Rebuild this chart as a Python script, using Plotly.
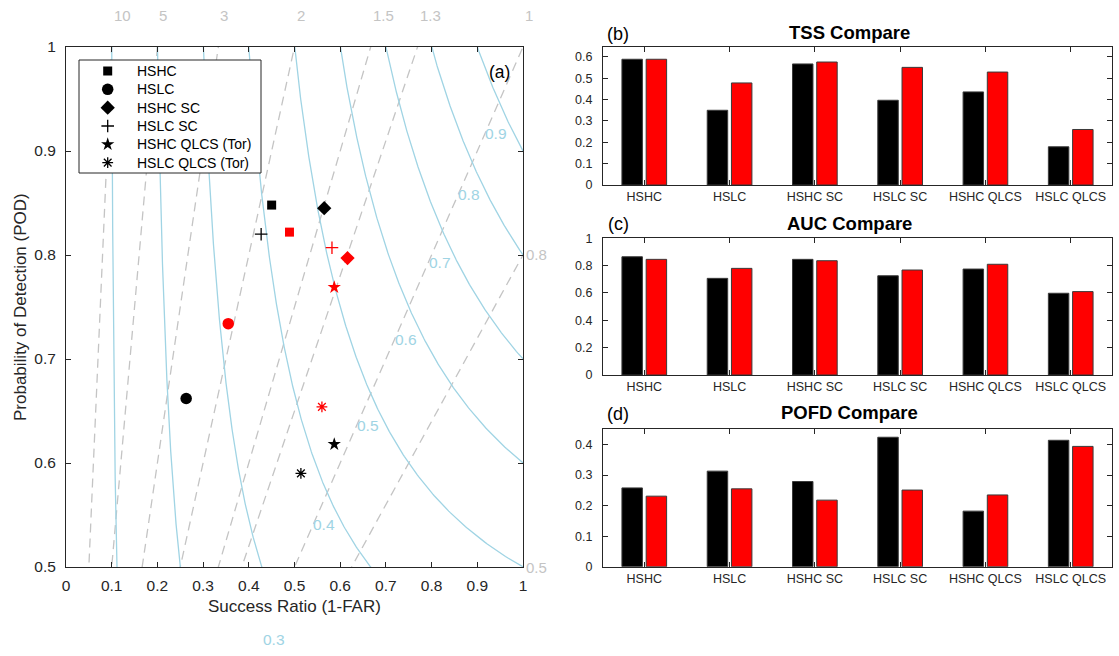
import numpy as np
import plotly.graph_objects as go

# ---- performance diagram data (success ratio, probability of detection) ----
cases = ["HSHC", "HSLC", "HSHC SC", "HSLC SC", "HSHC QLCS (Tor)", "HSLC QLCS (Tor)"]
symbols = ["square", "circle", "diamond", "cross-thin-open", "star", "asterisk-open"]
sizes = [9, 11.5, 11, 9, 10, 9]
sr_black = [0.450, 0.263, 0.565, 0.427, 0.587, 0.514]
pod_black = [0.848, 0.662, 0.845, 0.820, 0.618, 0.590]
sr_red = [0.489, 0.355, 0.616, 0.582, 0.587, 0.560]
pod_red = [0.822, 0.734, 0.797, 0.807, 0.769, 0.654]

# reference lines of the diagram
csi_levels = [0.1, 0.2, 0.3, 0.4, 0.5, 0.6, 0.7, 0.8, 0.9]
csi_labelled = [0.3, 0.4, 0.5, 0.6, 0.7, 0.8, 0.9]
bias_levels = [10, 5, 3, 2, 1.5, 1.3, 1, 0.8, 0.5]

# ---- bar chart data ----
bar_cats = ["HSHC", "HSLC", "HSHC SC", "HSLC SC", "HSHC QLCS", "HSLC QLCS"]
tss_black = [0.589, 0.350, 0.567, 0.397, 0.436, 0.179]
tss_red = [0.589, 0.478, 0.576, 0.551, 0.529, 0.260]
auc_black = [0.865, 0.707, 0.846, 0.726, 0.775, 0.598]
auc_red = [0.846, 0.780, 0.836, 0.768, 0.810, 0.610]
pofd_black = [0.258, 0.313, 0.279, 0.424, 0.182, 0.414]
pofd_red = [0.231, 0.255, 0.218, 0.251, 0.235, 0.394]

W, H = 1119, 656
FONT = "Liberation Sans, Arial, Helvetica, sans-serif"
AXC = "#262626"
CSI_C = "rgb(160,212,228)"
BIAS_C = "rgb(196,196,196)"

# left panel frame in pixels
L_X0, L_X1, L_Y0, L_Y1 = 66, 523, 47, 567
SR_RANGE, POD_RANGE = (0.0, 1.0), (0.5, 1.0)


def px(x):
    return x / W


def py(y):
    return 1 - y / H


def sr_at(x):
    """horizontal pixel -> success ratio on the left panel"""
    return SR_RANGE[0] + (x - L_X0) / (L_X1 - L_X0) * (SR_RANGE[1] - SR_RANGE[0])


def pod_at(y):
    """vertical pixel -> POD on the left panel"""
    return POD_RANGE[1] - (y - L_Y0) / (L_Y1 - L_Y0) * (POD_RANGE[1] - POD_RANGE[0])


def paper_x(sr):
    """success ratio -> paper fraction (valid outside the axis range too)"""
    return px(L_X0 + (sr - SR_RANGE[0]) / (SR_RANGE[1] - SR_RANGE[0]) * (L_X1 - L_X0))


def paper_y(pod):
    """POD -> paper fraction (valid outside the axis range too)"""
    return py(L_Y1 - (pod - POD_RANGE[0]) / (POD_RANGE[1] - POD_RANGE[0]) * (L_Y1 - L_Y0))


fig = go.Figure()

# bias lines (dashed)
for b in bias_levels:
    fig.add_trace(go.Scatter(x=[0, 1.2], y=[0, 1.2 * b], mode="lines",
                             line=dict(color=BIAS_C, width=1.3, dash="9px,6px"),
                             showlegend=False, hoverinfo="skip", xaxis="x", yaxis="y"))

# CSI contours
pod_grid = np.linspace(0.45, 1.05, 400)
for c in csi_levels:
    den = 1 / c + 1 - 1 / pod_grid
    ok = den > 0
    fig.add_trace(go.Scatter(x=1 / den[ok], y=pod_grid[ok], mode="lines",
                             line=dict(color=CSI_C, width=1.3),
                             showlegend=False, hoverinfo="skip", xaxis="x", yaxis="y"))


def marker(sym, size, color):
    open_sym = sym.endswith("open")
    return dict(symbol=sym, size=size, color=color,
                line=dict(color=color, width=1.3 if open_sym else 0))


# points
for i, name in enumerate(cases):
    fig.add_trace(go.Scatter(x=[sr_black[i]], y=[pod_black[i]], mode="markers", name=name,
                             marker=marker(symbols[i], sizes[i], "black"),
                             showlegend=False, xaxis="x", yaxis="y"))
    fig.add_trace(go.Scatter(x=[sr_red[i]], y=[pod_red[i]], mode="markers", name=name,
                             marker=marker(symbols[i], sizes[i], "red"),
                             showlegend=False, xaxis="x", yaxis="y"))

# legend box with keys, drawn over the diagram lines
LG_X0, LG_X1, LG_Y0, LG_Y1 = 79, 261, 60, 173
LG_KEY_X, LG_TXT_X, LG_ROW0, LG_DY = 107.7, 135, 71, 18.33
fig.add_trace(go.Scatter(
    x=[sr_at(LG_X0), sr_at(LG_X1), sr_at(LG_X1), sr_at(LG_X0), sr_at(LG_X0)],
    y=[pod_at(LG_Y0), pod_at(LG_Y0), pod_at(LG_Y1), pod_at(LG_Y1), pod_at(LG_Y0)],
    mode="lines", fill="toself", fillcolor="white",
    line=dict(color=AXC, width=1), showlegend=False, hoverinfo="skip",
    xaxis="x", yaxis="y"))
for i, name in enumerate(cases):
    fig.add_trace(go.Scatter(x=[sr_at(LG_KEY_X)], y=[pod_at(LG_ROW0 + i * LG_DY)],
                             mode="markers", marker=marker(symbols[i], sizes[i], "black"),
                             showlegend=False, hoverinfo="skip", xaxis="x", yaxis="y"))

# bar panels
xpos = list(range(1, len(bar_cats) + 1))
panels = [("2", tss_black, tss_red), ("3", auc_black, auc_red), ("4", pofd_black, pofd_red)]
for ax, blk, red in panels:
    fig.add_trace(go.Bar(x=xpos, y=blk, width=0.24, offset=-0.262,
                         marker=dict(color="black", line=dict(color="#3a3a3a", width=1)),
                         showlegend=False, xaxis="x" + ax, yaxis="y" + ax))
    fig.add_trace(go.Bar(x=xpos, y=red, width=0.24, offset=0.022,
                         marker=dict(color="red", line=dict(color="#3a3a3a", width=1)),
                         showlegend=False, xaxis="x" + ax, yaxis="y" + ax))

common = dict(showline=True, linecolor=AXC, linewidth=1, mirror="ticks",
              ticks="inside", ticklen=5, tickcolor=AXC, showgrid=False,
              zeroline=False, automargin=False,
              tickfont=dict(family=FONT, size=15.5, color=AXC))

layout = dict(
    width=W, height=H, margin=dict(l=0, r=0, t=0, b=0),
    paper_bgcolor="white", plot_bgcolor="white",
    font=dict(family=FONT, color=AXC),
    barmode="overlay", showlegend=False,
    xaxis=dict(common, domain=[px(L_X0), px(L_X1)], range=list(SR_RANGE),
               tickvals=[round(0.1 * k, 1) for k in range(11)],
               ticktext=["0"] + [f"{0.1 * k:.1f}" for k in range(1, 10)] + ["1"],
               ticklabelstandoff=4),
    yaxis=dict(common, domain=[py(L_Y1), py(L_Y0)], range=list(POD_RANGE),
               tickvals=[0.5, 0.6, 0.7, 0.8, 0.9, 1.0],
               ticktext=["0.5", "0.6", "0.7", "0.8", "0.9", "1"],
               ticklabelstandoff=6),
)

bar_y = {"2": ([py(185), py(47.3)], [0, 0.645], 0.1),
         "3": ([py(375), py(238.3)], [0, 1.0], 0.2),
         "4": ([py(566.7), py(429.3)], [0, 0.45], 0.1)}
for ax, (dom, rng, dt) in bar_y.items():
    layout["xaxis" + ax] = dict(common, domain=[px(603), px(1112)], range=[0.516, 6.484],
                                tickvals=xpos, ticktext=bar_cats, anchor="y" + ax,
                                tickfont=dict(family=FONT, size=12.5, color=AXC))
    layout["yaxis" + ax] = dict(common, domain=dom, range=rng, dtick=dt,
                                anchor="x" + ax, ticklabelstandoff=7,
                                tickfont=dict(family=FONT, size=12.5, color=AXC))

fig.update_layout(**layout)


def note(x, y, text, size, color, ref="paper", xa="center", ya="middle", **kw):
    return dict(x=x, y=y, xref="x" if ref == "data" else "paper",
                yref="y" if ref == "data" else "paper", text=text,
                xanchor=xa, yanchor=ya, showarrow=False,
                font=dict(family=FONT, size=size, color=color), **kw)


ann = []
# axis titles of the diagram
ann.append(note(px((L_X0 + L_X1) / 2), py(606), "Success Ratio (1-FAR)", 17, AXC))
ann.append(note(px(20), py((L_Y0 + L_Y1) / 2), "Probability of Detection (POD)", 17, AXC,
                textangle=-90))
# legend labels
for i, name in enumerate(cases):
    ann.append(note(sr_at(LG_TXT_X), pod_at(LG_ROW0 + i * LG_DY), name, 14, "black",
                    ref="data", xa="left"))
# bias labels: above the frame for b >= 1, on the right edge for b < 1
for b in bias_levels:
    if b >= 1:
        ann.append(note(paper_x(1 / b), paper_y(1.03), f"{b:g}", 15, BIAS_C, xa="left"))
    else:
        ann.append(note(paper_x(1.0), paper_y(b), f"{b:g}", 15, BIAS_C, xa="left", xshift=1))
# CSI labels placed near the diagonal
for c in csi_labelled:
    p = 2 * c / (1 + c)
    ann.append(note(paper_x(p - 0.006), paper_y(p - 0.031), f"{c:g}", 15.5, CSI_C))
ann.append(note(px(499), py(72), "(a)", 17.5, "black"))

titles = [("TSS Compare", "(b)", 33), ("AUC Compare", "(c)", 223), ("POFD Compare", "(d)", 413)]
for t, tag, yy in titles:
    ann.append(note(px(849), py(yy), f"<b>{t}</b>", 18.5, "black"))
    ann.append(note(px(618), py(yy + 1), tag, 18, "black"))
fig.update_layout(annotations=ann)

fig.write_html("out.html")
